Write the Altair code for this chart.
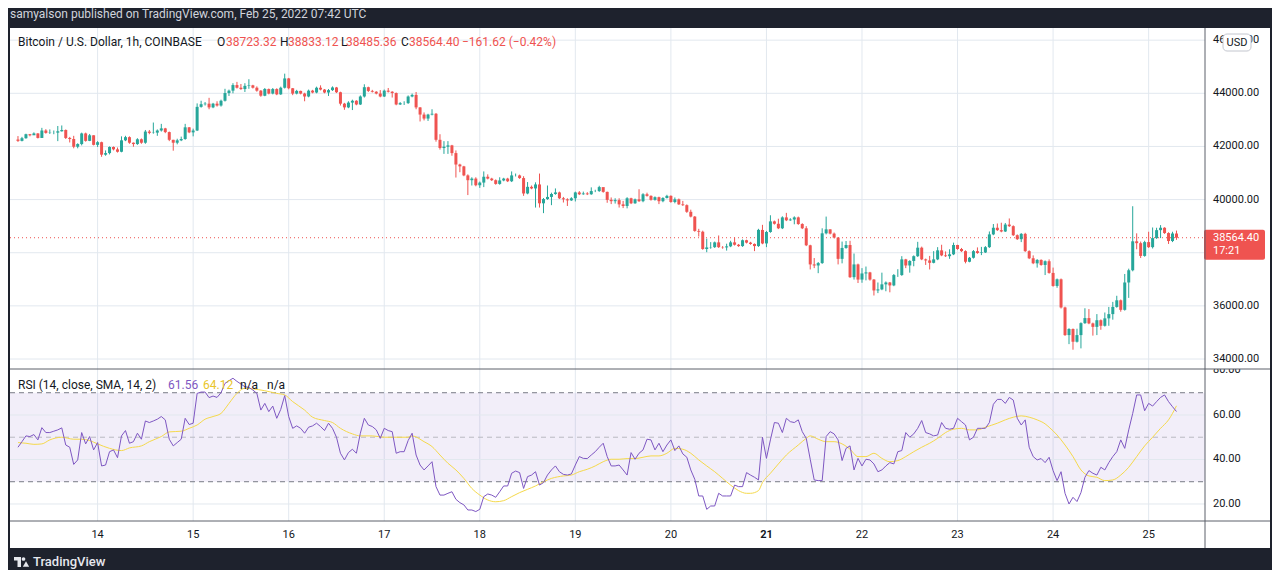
import altair as alt
import pandas as pd

# ---------------- data ----------------
first_open = 42260
close = [
    42210, 42310, 42460, 42420, 42490, 42320, 42600, 42510, 42520, 42520, 42570, 42620,
    42320, 42280, 41990, 42090, 42490, 42210, 42420, 42060, 42160, 41690, 41750, 41980,
    41890, 41800, 42230, 42350, 42140, 42090, 42270, 42140, 42560, 42510, 42520, 42600,
    42680, 42540, 42250, 42140, 42230, 42280, 42720, 42530, 42600, 43490, 43590, 43610,
    43470, 43610, 43540, 43720, 44010, 44100, 44310, 44210, 44160, 44280, 44300, 44210,
    44100, 43910, 44160, 43990, 44160, 43960, 44210, 44560, 44190, 43990, 44090, 43990,
    43880, 44100, 44030, 44210, 44140, 44030, 44120, 44220, 44040, 43610, 43470, 43650,
    43720, 43580, 43880, 44230, 44090, 44060, 43990, 43880, 44100, 44060, 44010, 43580,
    43630, 43630, 43880, 43940, 43470, 43200, 43050, 43200, 43230, 42250, 41940, 41990,
    42040, 41750, 41320, 41250, 40910, 40730, 40790, 40540, 40640, 40860, 40790, 40730,
    40590, 40720, 40790, 40690, 40910, 40910, 40810, 40230, 40480, 40420, 40570, 39860,
    40020, 40100, 40210, 40270, 40050, 40010, 39970, 40050, 40270, 40200, 40230, 40200,
    40320, 40320, 40470, 40290, 39990, 39940, 39980, 39820, 39760, 40050, 39860, 40010,
    39940, 40200, 40140, 39990, 40090, 39940, 40060, 40140, 39910, 40010, 39820, 39790,
    39540, 39360, 38820, 38790, 38140, 38200, 38210, 38390, 38210, 38200, 38240, 38390,
    38300, 38250, 38470, 38380, 38330, 38250, 38860, 38350, 38780, 39180, 39090, 38920,
    39330, 39220, 39250, 39330, 39080, 38920, 38280, 37560, 37520, 37610, 38730, 38880,
    38720, 38570, 37770, 38180, 38290, 37080, 37560, 36990, 37220, 37260, 36990, 36580,
    36620, 36810, 36880, 36770, 37160, 37160, 37750, 37520, 37690, 37870, 38190, 37750,
    37710, 37620, 37750, 38090, 37900, 37870, 37940, 38290, 38140, 38060, 37660, 37810,
    38060, 37990, 38010, 38210, 38690, 38940, 38850, 38800, 39060, 39000, 38660, 38510,
    38710, 38060, 37790, 37600, 37730, 37540, 37680, 37240, 36750, 37000, 35940, 34900,
    35130, 34650, 34900, 35350, 35540, 35340, 35210, 35460, 35250, 35530, 35690, 35960,
    36210, 35850, 36880, 37340, 38430, 38360, 37880, 38400, 38210, 38550, 38850, 38940,
    38740, 38440, 38723.32, 38564.40,
]
high = [
    42390, 42360, 42480, 42470, 42530, 42500, 42700, 42650, 42640, 42600, 42770, 42790,
    42640, 42360, 42400, 42120, 42520, 42520, 42470, 42420, 42200, 42180, 41850, 42000,
    42000, 41960, 42380, 42400, 42380, 42150, 42310, 42300, 42620, 42620, 42900, 42640,
    42850, 42700, 42560, 42250, 42290, 42370, 42850, 42730, 42670, 43620, 43720, 43670,
    43830, 43640, 43700, 43760, 44170, 44140, 44380, 44430, 44350, 44380, 44530, 44320,
    44260, 44120, 44200, 44180, 44200, 44190, 44250, 44740, 44580, 44200, 44130, 44100,
    44020, 44140, 44130, 44250, 44300, 44160, 44160, 44260, 44240, 44060, 43640, 43700,
    43760, 43740, 43920, 44340, 44250, 44130, 44080, 44120, 44140, 44200, 44080, 44030,
    43670, 43700, 43920, 43990, 44050, 43480, 43280, 43230, 43400, 43260, 42460, 42200,
    42200, 42060, 41850, 41350, 41270, 40950, 40840, 40840, 40680, 41060, 40950, 40820,
    40760, 40840, 40820, 40820, 41060, 40980, 40940, 40880, 40660, 40530, 40650, 40980,
    40060, 40530, 40260, 40420, 40300, 40100, 40050, 40090, 40300, 40320, 40300, 40280,
    40460, 40370, 40520, 40440, 40300, 40080, 40050, 40050, 39950, 40090, 40070, 40040,
    40390, 40240, 40260, 40160, 40120, 40110, 40090, 40180, 40160, 40080, 40040, 39950,
    39820, 39620, 39380, 38900, 38830, 38530, 38400, 38420, 38650, 38250, 38340, 38450,
    38580, 38330, 38500, 38490, 38410, 38350, 38900, 39050, 38820, 39410, 39210, 39280,
    39370, 39500, 39300, 39370, 39360, 39110, 39000, 38300, 37800, 37650, 38920, 39360,
    38880, 38760, 38590, 38420, 38440, 38450, 37970, 37590, 37420, 37480, 37280, 37010,
    36880, 37250, 36920, 36900, 37200, 37380, 37870, 37770, 37720, 37900, 38410, 38230,
    37780, 37880, 38060, 38210, 38300, 38050, 38130, 38380, 38300, 38180, 38090, 37840,
    38100, 38200, 38220, 38250, 38800, 39080, 39100, 39130, 39120, 39290, 39030, 38690,
    38740, 38750, 38090, 37900, 37760, 37750, 37710, 37750, 37440, 37030, 37030, 35970,
    35160, 35150, 35140, 35380, 35910, 35880, 35370, 35690, 35490, 35750, 35960, 36150,
    36380, 36240, 37200, 37400, 39750, 38730, 38420, 38450, 38790, 38950, 38940, 39040,
    38960, 38770, 38790, 38833.12,
]
low = [
    42170, 42190, 42290, 42380, 42440, 42300, 42320, 42480, 42470, 42460, 42200, 42560,
    42280, 42150, 41930, 41930, 42040, 42180, 42200, 42040, 41980, 41610, 41650, 41700,
    41850, 41770, 41780, 42200, 42100, 41990, 42060, 42100, 42100, 42460, 42480, 42400,
    42560, 42500, 42200, 41840, 42080, 42200, 42250, 42500, 42380, 42580, 43460, 43540,
    43400, 43440, 43500, 43500, 43690, 43900, 44000, 44180, 44130, 44050, 44170, 44180,
    44060, 43870, 43890, 43960, 43960, 43930, 43940, 44180, 44150, 43930, 43960, 43960,
    43700, 43850, 44000, 44000, 44110, 44000, 43900, 44090, 44010, 43540, 43380, 43440,
    43370, 43550, 43560, 43840, 44050, 44030, 43960, 43850, 43860, 44030, 43840, 43550,
    43560, 43560, 43600, 43850, 43400, 42940, 42980, 42960, 43170, 42180, 41880, 41720,
    41720, 41650, 40830, 41030, 40880, 40170, 40530, 40500, 40440, 40470, 40760, 40700,
    40560, 40560, 40690, 40660, 40660, 40870, 40780, 40140, 40200, 40390, 39700, 39700,
    39490, 39990, 39790, 40180, 40020, 39890, 39760, 39950, 39930, 40170, 40180, 40170,
    40180, 40280, 40290, 40260, 39880, 39830, 39850, 39700, 39680, 39670, 39830, 39840,
    39910, 39900, 40110, 39960, 39960, 39830, 39900, 40040, 39880, 39860, 39800, 39760,
    39500, 39330, 38790, 38610, 38110, 38020, 38150, 38180, 38180, 38150, 38080, 38210,
    38270, 38220, 38220, 38350, 38300, 38060, 38220, 38320, 38210, 38750, 39060, 38890,
    38890, 39190, 39200, 39070, 39050, 38890, 38250, 37370, 37420, 37230, 37580, 38690,
    38690, 38540, 37560, 37600, 38150, 37050, 36990, 36860, 36870, 36960, 36950, 36390,
    36480, 36590, 36550, 36510, 36740, 37090, 37130, 37420, 37250, 37490, 37840, 37720,
    37540, 37370, 37600, 37720, 37870, 37840, 37770, 37910, 38110, 38030, 37600, 37640,
    37780, 37960, 37910, 37990, 38180, 38660, 38820, 38770, 38780, 38970, 38630, 38480,
    38400, 38030, 37760, 37570, 37440, 37510, 37160, 37210, 36720, 36680, 35900, 34870,
    34560, 34350, 34620, 34400, 35320, 35310, 34880, 34900, 35100, 35220, 35250, 35480,
    35930, 35780, 35820, 36300, 37300, 38130, 37800, 37850, 38180, 38160, 38520, 38550,
    38710, 38330, 38400, 38485.36,
]
rsi = [
    45.5, 48.0, 50.6, 50.3, 51.2, 48.8, 54.3, 52.1, 52.1, 52.7, 53.3, 54.2,
    46.5, 45.5, 37.8, 39.8, 52.1, 47.0, 50.3, 44.3, 47.6, 37.1, 37.5, 43.5,
    44.3, 40.8, 50.6, 53.0, 47.3, 48.0, 51.8, 49.1, 57.3, 56.6, 57.3, 58.1,
    59.3, 57.8, 49.1, 46.1, 47.6, 49.1, 58.5, 55.7, 56.3, 69.7, 70.3, 70.3,
    67.8, 68.5, 67.9, 70.0, 74.2, 75.4, 76.5, 75.1, 73.9, 72.7, 72.4, 71.2,
    69.7, 62.2, 65.2, 61.5, 64.0, 58.5, 62.5, 68.7, 59.3, 54.0, 55.1, 54.0,
    51.8, 54.5, 55.1, 56.3, 54.8, 53.0, 56.3, 54.0, 50.0, 42.8, 39.8, 43.1,
    44.6, 42.8, 51.8, 58.5, 55.5, 54.8, 53.3, 49.5, 54.0, 53.0, 52.5, 42.8,
    43.5, 43.5, 48.5, 51.8, 42.0, 37.5, 35.3, 37.1, 39.0, 27.8, 24.0, 24.0,
    24.8, 25.5, 22.1, 20.6, 19.6, 17.3, 17.3, 16.6, 17.6, 23.3, 24.5, 24.0,
    23.0, 25.5, 28.1, 28.1, 33.8, 34.8, 34.1, 27.0, 32.3, 33.0, 34.5, 28.5,
    29.6, 33.0, 35.3, 37.1, 34.5, 33.3, 33.0, 33.5, 37.5, 41.3, 40.5, 40.4,
    42.0, 43.5, 45.5, 47.3, 41.3, 37.1, 37.1, 37.5, 35.3, 33.0, 43.1, 40.1,
    42.8, 44.3, 49.1, 48.8, 44.3, 47.3, 43.5, 46.5, 48.8, 44.0, 46.1, 42.5,
    41.0, 35.3, 31.1, 23.6, 23.6, 17.6, 19.1, 19.1, 24.8, 23.6, 23.6, 23.6,
    28.5, 27.8, 27.8, 34.1, 33.0, 32.0, 30.8, 50.0, 40.5, 48.8, 56.6, 56.3,
    52.1, 58.5, 57.0, 56.6, 57.8, 52.5, 49.5, 40.1, 30.8, 30.5, 30.5, 50.3,
    52.5, 51.5, 48.8, 39.5, 45.0, 46.1, 35.3, 40.5, 37.1, 40.1, 39.8, 38.0,
    34.5, 35.3, 37.1, 38.6, 38.0, 43.5, 44.0, 52.1, 50.0, 51.5, 54.0, 57.5,
    52.1, 51.5, 50.6, 51.0, 56.6, 54.0, 53.6, 54.0, 58.5, 57.0, 55.5, 48.8,
    50.0, 54.0, 54.0, 54.0, 56.6, 64.8, 67.0, 67.0, 65.2, 67.9, 66.7, 58.5,
    55.5, 57.8, 45.5, 41.3, 39.8, 40.4, 38.6, 41.0, 35.0, 30.5, 34.5, 24.8,
    20.0, 23.0, 21.1, 25.1, 32.0, 35.0, 33.8, 33.0, 36.5, 35.3, 38.6, 41.3,
    43.5, 48.8, 45.0, 53.3, 60.7, 69.0, 69.0, 61.9, 65.2, 64.0, 66.0, 67.9,
    69.0, 66.0, 63.7, 61.56,
]
sma_hour = [
    0, 2, 4, 6, 8, 11, 14, 16, 18, 20, 23, 26, 28, 31, 33, 36, 38, 41, 43, 45, 47, 49,
    51, 53, 55, 57, 59, 62, 65, 67, 69, 72, 74, 77, 79, 81, 84, 86, 89, 92, 95, 98, 99,
    102, 104, 106, 108, 110, 112, 114, 116, 118, 120, 122, 124, 126, 128, 130, 132, 134,
    137, 139, 141, 143, 145, 147, 149, 151, 153, 155, 157, 159, 161, 163, 165, 167, 169,
    171, 173, 175, 177, 179, 181, 183, 184, 186, 187, 189, 191, 193, 196, 198, 199, 201,
    203, 205, 207, 209, 211, 213, 215, 217, 219, 221, 223, 225, 227, 229, 231, 233, 235,
    237, 239, 241, 243, 246, 248, 250, 252, 254, 256, 258, 259, 261, 263, 265, 267, 269,
    271, 273, 275, 277, 279, 281, 283, 285, 287, 289, 291,
]
sma_value = [
    47.6, 47.3, 46.8, 47.0, 48.8, 50.0, 49.1, 49.1, 48.5, 47.0, 45.0, 44.0, 45.2, 46.1,
    48.0, 50.3, 52.4, 52.7, 54.0, 55.5, 58.1, 59.3, 60.7, 65.2, 69.7, 72.0, 71.7, 70.9,
    69.7, 69.0, 66.0, 62.2, 59.0, 57.5, 56.6, 54.0, 51.5, 50.6, 50.6, 50.0, 50.0, 50.0,
    50.6, 48.0, 45.8, 42.0, 38.3, 35.3, 31.5, 27.0, 24.0, 21.8, 21.0, 21.5, 23.3, 25.1,
    26.6, 28.1, 30.0, 31.5, 32.6, 33.0, 34.5, 35.6, 37.1, 39.0, 40.1, 40.1, 40.4, 40.4,
    41.0, 41.6, 41.6, 42.8, 45.0, 44.6, 42.8, 39.8, 37.1, 34.5, 31.5, 28.5, 26.0, 24.8,
    24.8, 26.0, 29.6, 33.8, 38.0, 42.0, 46.5, 49.5, 50.6, 49.1, 48.0, 48.0, 47.0, 44.6,
    41.3, 41.3, 42.8, 40.5, 39.0, 39.5, 41.3, 43.5, 45.5, 47.3, 49.5, 52.1, 53.6, 54.0,
    53.3, 53.3, 54.5, 56.3, 57.8, 59.0, 59.6, 59.0, 57.8, 56.0, 54.5, 51.0, 46.5, 41.3,
    35.3, 32.6, 32.0, 30.5, 30.8, 33.0, 36.5, 41.3, 46.1, 50.0, 54.0, 57.8, 64.12,
]
day_ticks = [20, 44, 68, 92, 116, 140, 164, 188, 212, 236, 260, 284]  # hour index of 00:00
day_labels = ["14", "15", "16", "17", "18", "19", "20", "21", "22", "23", "24", "25"]
day_weight = ["normal"] * 7 + ["bold"] + ["normal"] * 4   # Monday 21 shown bold
price_grid_ticks = [34000, 36000, 38000, 40000, 42000, 44000, 46000]
price_label_ticks = [34000, 36000, 40000, 42000, 44000, 46000]  # 38000 hidden by price tag
rsi_label_ticks = [20, 40, 60, 80]
rsi_grid_ticks = [20, 40, 60]
rsi_band_levels = [70, 30]
rsi_mid_level = [50]
last_price = 38564.40
last_price_text = "38564.40"
countdown = "17:21"

header_text = "samyalson published on TradingView.com, Feb 25, 2022 07:42 UTC"
legend_parts = ["Bitcoin / U.S. Dollar, 1h, COINBASE", "O", "38723.32", "H", "38833.12",
                "L", "38485.36", "C", "38564.40", "\u2212161.62 (\u22120.42%)"]
legend_x = [8, 207, 216, 270, 278, 331, 336, 391, 399, 452]
rsi_legend_parts = ["RSI (14, close, SMA, 14, 2)", "61.56", "64.12", "n/a", "n/a"]
rsi_legend_x = [8, 158, 193, 230, 257]

# ---------------- styling ----------------
GREEN = "#26a69a"
RED = "#ef5350"
PURPLE = "#7e57c2"
YELLOW = "#f5d94a"
DARK = "#1e222d"
GRID = "#e2e8ef"
SEP = "#5d606b"
TXT = "#131722"
FONT = "Roboto"
W, H = 1260, 520
PLOT_R = 1195
PANE_Y = 341
XAXIS_Y = 493
LABEL_X = 1203

x_scale = alt.Scale(domain=[-0.748, 313.23], nice=False, zero=False)
price_scale = alt.Scale(domain=[26887, 46458], nice=False, zero=False)
rsi_scale = alt.Scale(domain=[0.22, 233.9], nice=False, zero=False)

n = len(close)
opens = [first_open] + close[:-1]
candles = pd.DataFrame({"k": list(range(n)), "open": opens, "high": high,
                        "low": low, "close": close})

cx = alt.X("k:Q", scale=x_scale, axis=None)
ccolor = alt.condition("datum.close >= datum.open", alt.value(GREEN), alt.value(RED))
one = pd.DataFrame({"a": [0]})

# ---------------- time grid + time axis labels ----------------
days = pd.DataFrame({"k": day_ticks, "label": day_labels, "w": day_weight})
day_grid = alt.Chart(days).mark_rule(color=GRID, strokeWidth=1).encode(
    x=cx, y=alt.value(0), y2=alt.value(XAXIS_Y))
day_text = alt.Chart(days).transform_filter("datum.w == 'normal'").mark_text(
    align="center", baseline="middle", font=FONT, fontSize=11, color=TXT).encode(
    x=cx, y=alt.value(XAXIS_Y + 14), text="label:N")
day_text_bold = alt.Chart(days).transform_filter("datum.w == 'bold'").mark_text(
    align="center", baseline="middle", font=FONT, fontSize=11, fontWeight="bold", color=TXT).encode(
    x=cx, y=alt.value(XAXIS_Y + 14), text="label:N")
time_axis_line = alt.Chart(one).mark_rule(color=SEP, strokeWidth=1).encode(
    x=alt.value(0), x2=alt.value(W), y=alt.value(XAXIS_Y))
price_axis_line = alt.Chart(one).mark_rule(color=SEP, strokeWidth=1).encode(
    x=alt.value(PLOT_R), y=alt.value(0), y2=alt.value(H))

# ---------------- price pane ----------------
py = alt.Y("p:Q", scale=price_scale, axis=None)
price_grid = alt.Chart(pd.DataFrame({"p": price_grid_ticks})).mark_rule(color=GRID, strokeWidth=1).encode(
    y=py, x=alt.value(0), x2=alt.value(PLOT_R))
price_labels = alt.Chart(pd.DataFrame({"p": price_label_ticks})).mark_text(
    align="left", baseline="middle", font=FONT, fontSize=11, color=TXT).encode(
    y=py, x=alt.value(LABEL_X), text=alt.Text("p:Q", format=".2f"))

wicks = alt.Chart(candles).mark_rule(strokeWidth=1).encode(
    x=cx, y=alt.Y("low:Q", scale=price_scale, axis=None), y2="high:Q", color=ccolor)
bodies = alt.Chart(candles).mark_bar(width=3).encode(
    x=cx, y=alt.Y("open:Q", scale=price_scale, axis=None), y2="close:Q", color=ccolor)

last_df = pd.DataFrame({"p": [last_price], "label": [last_price_text], "timer": [countdown]})
last_line = alt.Chart(last_df).mark_rule(color=RED, strokeWidth=1, strokeDash=[1, 3]).encode(
    y=py, x=alt.value(0), x2=alt.value(PLOT_R))
last_box = alt.Chart(last_df).mark_rect(color=RED, yOffset=-8, y2Offset=22, cornerRadius=2).encode(
    y=py, y2="p:Q", x=alt.value(1194), x2=alt.value(1255))
last_text = alt.Chart(last_df).mark_text(align="left", baseline="middle", color="white",
                                         fontSize=11, font=FONT).encode(
    y=py, x=alt.value(LABEL_X), text="label:N")
last_timer = alt.Chart(last_df).mark_text(align="left", baseline="middle", color="white",
                                          fontSize=11, font=FONT, dy=13).encode(
    y=py, x=alt.value(LABEL_X), text="timer:N")

price_group = alt.layer(price_grid, price_labels, last_line, wicks, bodies,
                        last_box, last_text, last_timer)

# ---------------- RSI pane ----------------
band = alt.Chart(pd.DataFrame({"top": [rsi_band_levels[0]], "bottom": [rsi_band_levels[1]]})).mark_rect(
    color=PURPLE, opacity=0.1).encode(
    y=alt.Y("top:Q", scale=rsi_scale, axis=None), y2="bottom:Q",
    x=alt.value(0), x2=alt.value(PLOT_R))
ry = alt.Y("r:Q", scale=rsi_scale, axis=None)
rsi_grid = alt.Chart(pd.DataFrame({"r": rsi_grid_ticks})).mark_rule(color=GRID, strokeWidth=1).encode(
    y=ry, x=alt.value(0), x2=alt.value(PLOT_R))
rsi_labels = alt.Chart(pd.DataFrame({"r": rsi_label_ticks})).mark_text(
    align="left", baseline="middle", font=FONT, fontSize=11, color=TXT).encode(
    y=ry, x=alt.value(LABEL_X), text=alt.Text("r:Q", format=".2f"))
band_lines = alt.Chart(pd.DataFrame({"r": rsi_band_levels})).mark_rule(
    strokeWidth=1, strokeDash=[5, 4], color="#787b86").encode(
    y=ry, x=alt.value(0), x2=alt.value(PLOT_R))
mid_line = alt.Chart(pd.DataFrame({"r": rsi_mid_level})).mark_rule(
    strokeWidth=1, strokeDash=[5, 4], color="#b9bac1").encode(
    y=ry, x=alt.value(0), x2=alt.value(PLOT_R))
sma_line = alt.Chart(pd.DataFrame({"k": sma_hour, "v": sma_value})).mark_line(
    color=YELLOW, strokeWidth=1, interpolate="monotone").encode(
    x=cx, y=alt.Y("v:Q", scale=rsi_scale, axis=None))
rsi_line = alt.Chart(pd.DataFrame({"k": list(range(len(rsi))), "v": rsi})).mark_line(
    color=PURPLE, strokeWidth=1).encode(
    x=cx, y=alt.Y("v:Q", scale=rsi_scale, axis=None))

rsi_group = alt.layer(band, rsi_grid, rsi_labels, band_lines, mid_line, sma_line, rsi_line)

# ---------------- overlays (frame, texts) ----------------
clip_rect = alt.Chart(one).mark_rect(color="white").encode(
    x=alt.value(PLOT_R + 1), x2=alt.value(W), y=alt.value(PANE_Y - 5), y2=alt.value(PANE_Y))
separator = alt.Chart(one).mark_rule(color=SEP, strokeWidth=1).encode(
    x=alt.value(0), x2=alt.value(W), y=alt.value(PANE_Y))

header = alt.Chart(pd.DataFrame({"t": [header_text]})).mark_text(
    align="left", baseline="middle", font=FONT, fontSize=12, color="#d1d4dc").encode(
    x=alt.value(0), y=alt.value(-14), text="t:N")

legend_colors = [TXT, TXT, RED, TXT, RED, TXT, RED, TXT, RED, RED]
legend = alt.Chart(pd.DataFrame({"t": legend_parts, "x": legend_x, "c": legend_colors})).mark_text(
    align="left", baseline="middle", font=FONT, fontSize=12).encode(
    x=alt.X("x:Q", scale=None), y=alt.value(14), text="t:N", color=alt.Color("c:N", scale=None))

rsi_legend_colors = [TXT, PURPLE, "#e9c52a", TXT, TXT]
rsi_legend = alt.Chart(pd.DataFrame({"t": rsi_legend_parts, "x": rsi_legend_x,
                                     "c": rsi_legend_colors})).mark_text(
    align="left", baseline="middle", font=FONT, fontSize=12).encode(
    x=alt.X("x:Q", scale=None), y=alt.value(PANE_Y + 16), text="t:N",
    color=alt.Color("c:N", scale=None))

usd_box = alt.Chart(one).mark_rect(fill="white", stroke="#c3c6ce", strokeWidth=1, cornerRadius=4).encode(
    x=alt.value(1213), x2=alt.value(1241), y=alt.value(6), y2=alt.value(23))
usd_text = alt.Chart(pd.DataFrame({"t": ["USD"]})).mark_text(
    align="center", baseline="middle", font=FONT, fontSize=11, color=TXT).encode(
    x=alt.value(1227), y=alt.value(14.5), text="t:N")

footer = alt.Chart(pd.DataFrame({"t": ["TradingView"]})).mark_text(
    align="left", baseline="middle", font=FONT, fontSize=13, fontWeight=500, color="#e6e8ee").encode(
    x=alt.value(23), y=alt.value(534), text="t:N")
logo_a = alt.Chart(one).mark_rect(color="#e6e8ee").encode(
    x=alt.value(4), x2=alt.value(11), y=alt.value(529), y2=alt.value(532.5))
logo_b = alt.Chart(one).mark_rect(color="#e6e8ee").encode(
    x=alt.value(7.5), x2=alt.value(11), y=alt.value(529), y2=alt.value(539))
logo_c = alt.Chart(one).mark_point(filled=True, size=14, color="#e6e8ee", opacity=1).encode(
    x=alt.value(13.5), y=alt.value(531))
logo_d = alt.Chart(one).mark_point(filled=True, size=40, shape="triangle-up", color="#e6e8ee",
                                   opacity=1).encode(x=alt.value(16), y=alt.value(536))

chart = alt.layer(
    day_grid, rsi_group, price_group, clip_rect, separator, time_axis_line, price_axis_line,
    day_text, day_text_bold,
    header, legend, rsi_legend, usd_box, usd_text, footer, logo_a, logo_b, logo_c, logo_d,
).resolve_scale(y="independent").properties(
    width=W, height=H,
    padding={"left": 2, "top": 20, "right": 2, "bottom": 22},
    autosize=alt.AutoSizeParams(type="none"),
    background=DARK,
).configure_view(fill="white", strokeWidth=0)

chart.save("out.html", embed_options={"renderer": "svg", "actions": False})
